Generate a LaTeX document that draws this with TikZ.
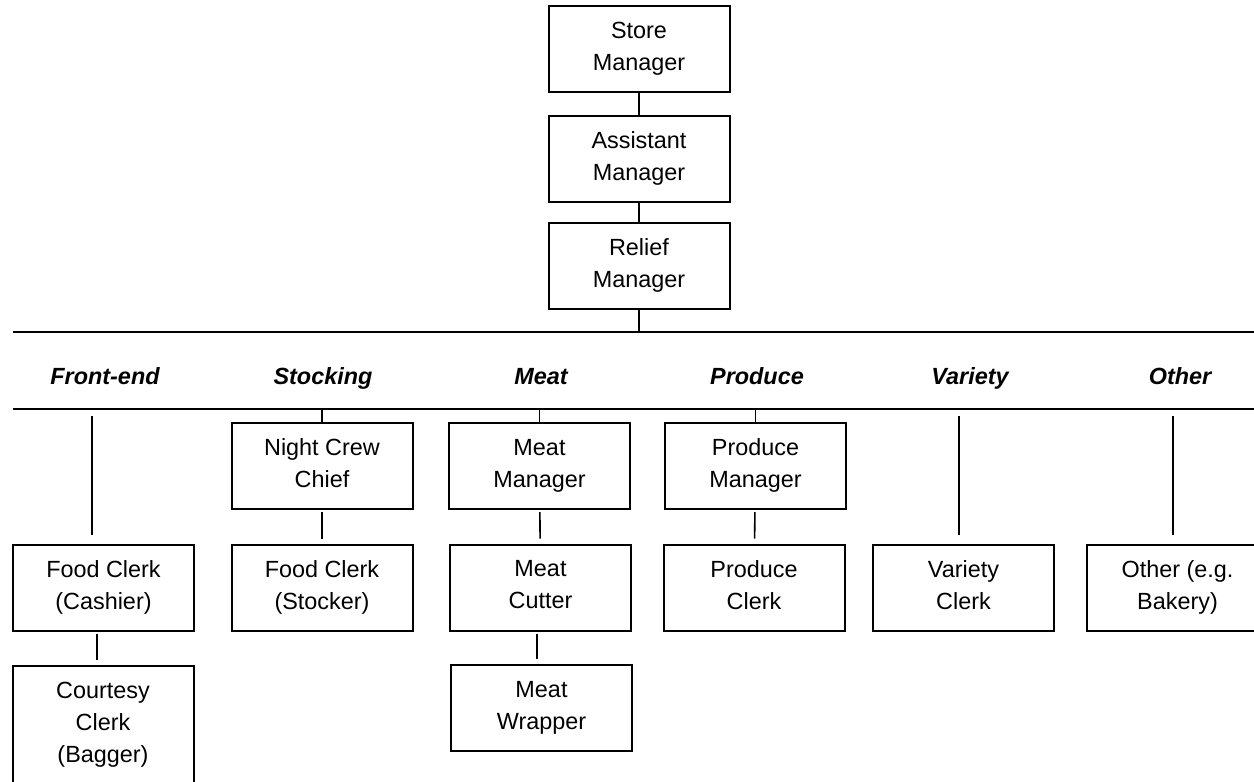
\documentclass[tikz,border=0pt]{standalone}
\usepackage{fontspec}
\setmainfont{Liberation Sans}
\usepackage{tikz}
\newcommand{\chartfont}{\fontsize{11.7pt}{16pt}\selectfont}
\newcommand{\topstrut}{\rule{0pt}{12.5pt}}
\newcommand{\botstrut}{\rule[-2.6pt]{0pt}{2.6pt}}
\newcommand{\deepstrut}{\rule[-12pt]{0pt}{12pt}}

\begin{document}
\begin{tikzpicture}[x=0.5pt,y=-0.5pt,
    box/.style={draw,line width=1pt,minimum width=90.5pt,minimum height=43pt,
      inner sep=0pt,align=center,font=\chartfont,
      execute at begin node=\topstrut,
      execute at end node=\botstrut},
    dept/.style={anchor=base,font=\chartfont\bfseries\itshape},
    link/.style={line width=0.8pt},
    gap/.style={link,shorten <=1pt,shorten >=2.5pt}]
  \useasboundingbox (0,0) rectangle (1254,782);
  \clip (0,0) rectangle (1254,782);
  % management
  \node[box] (store)  at (639,48.5)  {Store\\Manager};
  \node[box] (assist) at (639,158.5) {Assistant\\Manager};
  \node[box] (relief) at (639,265.5) {Relief\\Manager};
  \coordinate (bar1w) at (13,332);  \coordinate (bar1e) at (1262,332);
  \coordinate (bar2w) at (13,409);  \coordinate (bar2e) at (1262,409);
  \draw[link] (bar1w) -- (bar1e);
  \draw[link] (bar2w) -- (bar2e);
  \draw[link] (store) -- (assist);
  \draw[link] (assist) -- (relief);
  \draw[link] (relief) -- (relief.south |- bar1w);
  % departments
  \node[dept] (front) at (105,384)  {Front-end};
  \node[dept] (stock) at (323,384)  {Stocking};
  \node[dept] (meat)  at (541,384)  {Meat};
  \node[dept] (prod)  at (757,384)  {Produce};
  \node[dept] (vari)  at (970,384)  {Variety};
  \node[dept] (oth)   at (1180,384) {Other};
  % first row
  \node[box] (night)   at (322,466)   {Night Crew\\Chief};
  \node[box] (meatmgr) at (539.5,466) {Meat\\Manager};
  \node[box] (prodmgr) at (755.5,466) {Produce\\Manager};
  % second row
  \node[box] (cashier) at (103.5,587.5)  {Food Clerk\\(Cashier)};
  \node[box] (stocker) at (322,587.5)    {Food Clerk\\(Stocker)};
  \node[box] (cutter)  at (540.5,587.5)  {Meat\\Cutter};
  \node[box] (prodclk) at (754,587.5)    {Produce\\Clerk};
  \node[box] (varclk)  at (963.5,587.5)  {Variety\\Clerk};
  \node[box] (othclk)  at (1177.5,587.5) {Other (e.g.\\Bakery)};
  % third row
  \node[box,anchor=north,inner ysep=8pt,execute at end node=\deepstrut]
    (courtesy) at (103,665) {Courtesy\\Clerk\\(Bagger)};
  \node[box] (wrapper) at (541.5,708) {Meat\\Wrapper};
  % connectors
  \draw[link] (night.north |- bar2w) -- (night);
  \draw[link] (meatmgr.north |- bar2w) -- (meatmgr);
  \draw[link] (prodmgr.north |- bar2w) -- (prodmgr);
  \draw[link,shorten <=3.5pt,shorten >=4.5pt] ([xshift=-5.75pt]cashier.north |- bar2w) -- ([xshift=-5.75pt]cashier.north);
  \draw[link,shorten <=3.5pt,shorten >=4.5pt] ([xshift=-2.25pt]varclk.north |- bar2w) -- ([xshift=-2.25pt]varclk.north);
  \draw[link,shorten <=3.5pt,shorten >=4.5pt] ([xshift=-2.25pt]othclk.north |- bar2w) -- ([xshift=-2.25pt]othclk.north);
  \draw[gap] (night) -- (stocker);
  \draw[gap] (meatmgr) -- (cutter);
  \draw[gap] (prodmgr) -- (prodclk);
  \draw[gap] ([xshift=-1.75pt]cutter.south) -- ([xshift=-1.75pt]cutter.south |- wrapper.north);
  \draw[gap] ([xshift=-3.25pt]cashier.south) -- ([xshift=-3.25pt]cashier.south |- courtesy.north);
\end{tikzpicture}
\end{document}
